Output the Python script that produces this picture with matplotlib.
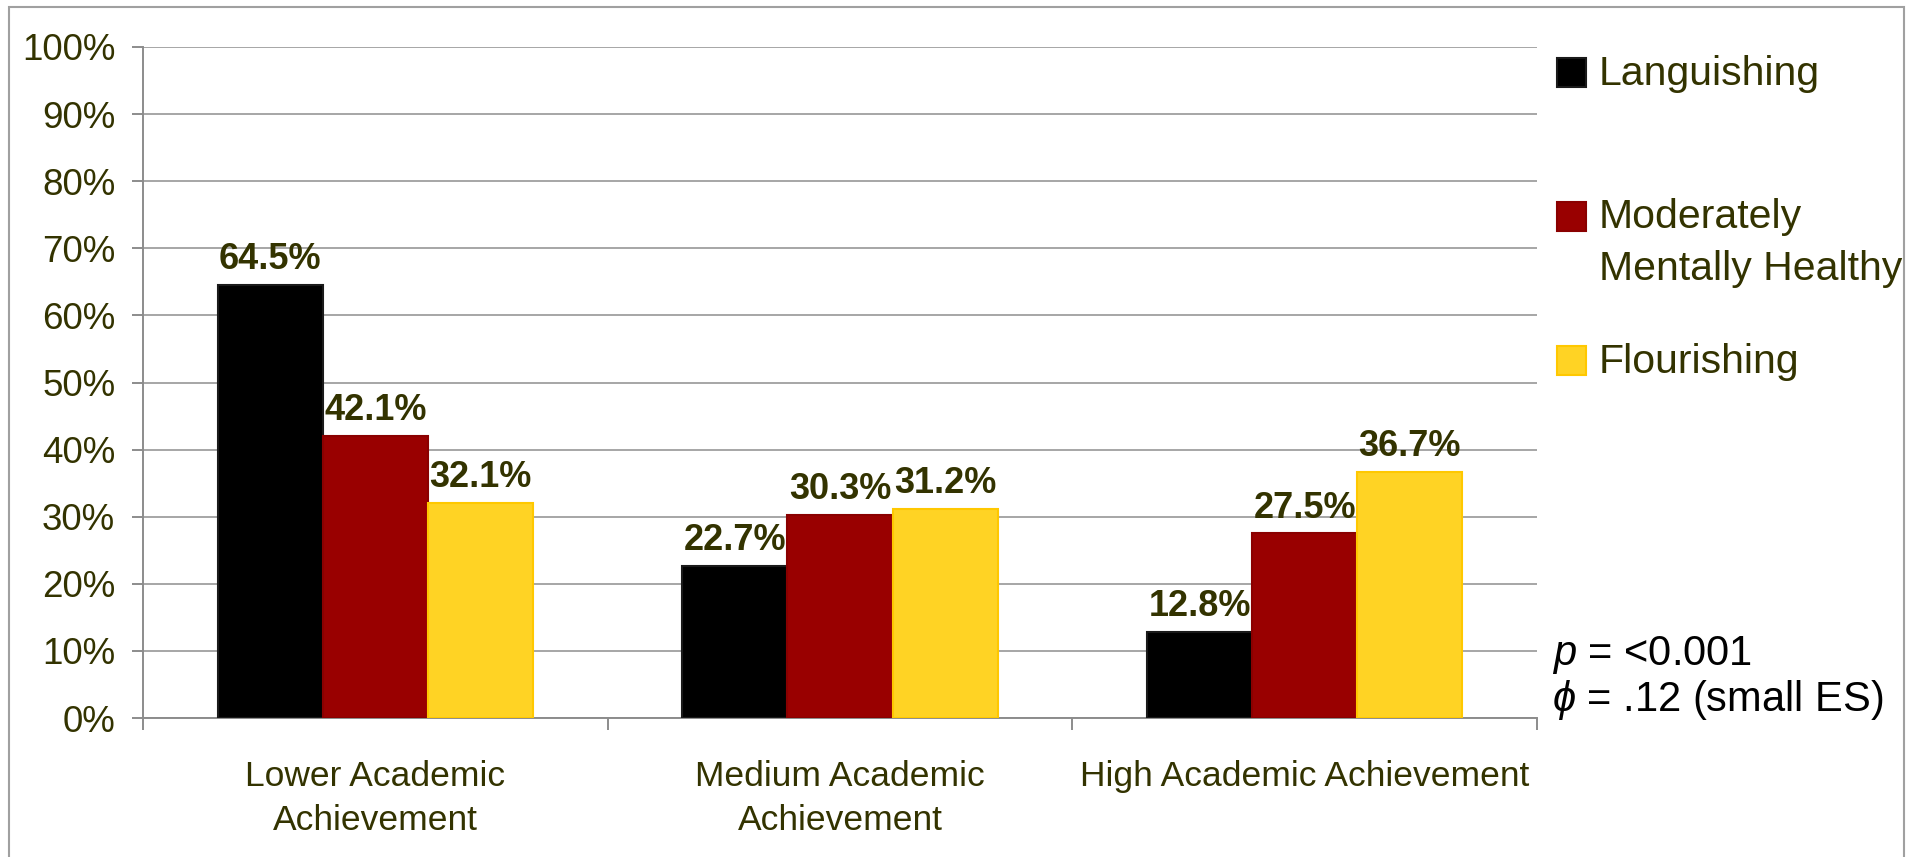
import matplotlib.pyplot as plt
import numpy as np
from matplotlib.patches import Rectangle

plt.rcParams['font.family'] = ['Liberation Sans', 'DejaVu Sans']
plt.rcParams['mathtext.fontset'] = 'custom'
plt.rcParams['mathtext.it'] = 'Liberation Sans:italic'
plt.rcParams['mathtext.rm'] = 'Liberation Sans'

# donnees du graphique
categories = ['Lower Academic\nAchievement', 'Medium Academic\nAchievement',
              'High Academic Achievement']
series_names = ['Languishing', 'Moderately\nMentally Healthy', 'Flourishing']
languishing = [64.5, 22.7, 12.8]
moderately = [42.1, 30.3, 27.5]
flourishing = [32.1, 31.2, 36.7]
y_ticks = [0, 10, 20, 30, 40, 50, 60, 70, 80, 90, 100]
stats_lines = ['$p$ = <0.001', r'$\phi$ = .12 (small ES)']

face_colors = ['#000000', '#990000', '#FFD324']
edge_colors = ['#1a1a1a', '#8a0000', '#FFC800']
text_col = '#333300'
grid_col = '#a6a6a6'

W, H = 1915, 857
fig = plt.figure(figsize=(W / 100, H / 100), dpi=100)
fig.patch.set_facecolor('white')


def fx(x):
    return x / W


def fy(y):
    return 1 - y / H


# cadre exterieur gris
fig.add_artist(Rectangle((fx(9), -0.05), fx(1904) - fx(9), fy(7) + 0.05,
                         transform=fig.transFigure, fill=False,
                         edgecolor='#a0a0a0', lw=1.5))

ax = fig.add_axes([fx(143), fy(718), fx(1537) - fx(143), fy(47) - fy(718)])

series = [languishing, moderately, flourishing]
x = np.arange(len(categories))
w = 0.226
for i, vals in enumerate(series):
    pos = x + (i - 1) * w
    ax.bar(pos, vals, width=w, color=face_colors[i], edgecolor=edge_colors[i],
           linewidth=1.5, zorder=3)
    for xp, v in zip(pos, vals):
        ax.annotate(f'{v}%', (xp, v), xytext=(0, 11.5), textcoords='offset points',
                    ha='center', va='baseline', fontsize=26, fontweight='bold',
                    color=text_col, zorder=4)

ax.set_xlim(-0.5, 2.5)
ax.set_ylim(0, 100)
ax.set_yticks(y_ticks)
ax.set_yticklabels([f'{t}%' for t in y_ticks])
ax.yaxis.grid(True, color=grid_col, lw=1.4)
ax.set_axisbelow(True)

ax.set_xticks([-0.5, 0.5, 1.5, 2.5])
ax.set_xticklabels([])
ax.set_xticks(x, minor=True)
ax.set_xticklabels(categories, minor=True)

for s in ['top', 'right']:
    ax.spines[s].set_visible(False)
for s in ['left', 'bottom']:
    ax.spines[s].set_color('#8c8c8c')
    ax.spines[s].set_linewidth(1.4)

ax.tick_params(axis='x', which='major', direction='out', length=8.5,
               width=1.4, color='#8c8c8c')
ax.tick_params(axis='x', which='minor', length=0, pad=30, labelsize=25.5,
               labelcolor=text_col)
ax.tick_params(axis='y', direction='out', length=8, width=1.4,
               color='#8c8c8c', pad=12, labelsize=26.5, labelcolor=text_col)
for lab in ax.get_xticklabels(minor=True):
    lab.set_linespacing(1.45)

# legende manuelle (y du carre, ligne de base de la derniere ligne du texte)
leg_y = [72, 216, 360]
leg_base = [85, 280, 373]
for i, name in enumerate(series_names):
    fig.add_artist(Rectangle((fx(1557), fy(leg_y[i] + 15)), fx(29), 29 / H,
                             transform=fig.transFigure,
                             facecolor=face_colors[i], edgecolor=edge_colors[i],
                             lw=1.5))
    fig.text(fx(1599), fy(leg_base[i]), name, fontsize=29.5, color=text_col,
             ha='left', va='baseline', linespacing=1.45)

# statistiques
for j, line in enumerate(stats_lines):
    fig.text(fx(1552), fy(655 + 45 * j), line, fontsize=30, color='black',
             ha='left', va='center')

fig.savefig('out.png', dpi=100)
